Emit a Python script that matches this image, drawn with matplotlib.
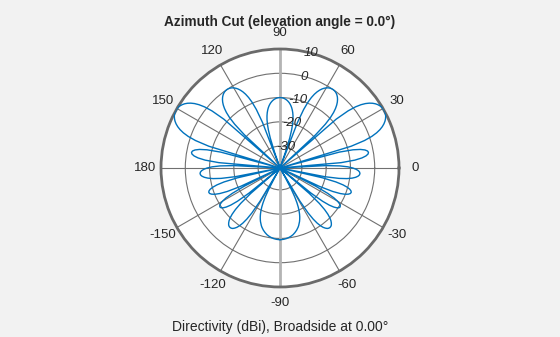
import numpy as np
import matplotlib
matplotlib.use("Agg")
import matplotlib.pyplot as plt

plt.rcParams["font.family"] = ["Liberation Sans", "DejaVu Sans"]

TITLE = "Azimuth Cut (elevation angle = 0.0°)"
XLABEL = "Directivity (dBi), Broadside at 0.00°"

# azimuth (deg) of the right half of the cut, -90 .. 90 in 1 deg steps;
# the left half is the mirror image about the 90/-90 axis
AZ_RIGHT = list(range(-90, 91))
# directivity (dBi); nulls sit below the -39 floor
DIR_RIGHT = [
    -9.5, -9.5, -9.55, -9.6, -9.7, -9.8, -9.95, -10.1, -10.3, -10.5,      # -90 .. -81
    -10.75, -11.0, -11.35, -11.7, -12.1, -12.5, -13.0, -13.5, -14.1, -14.8,  # -80 .. -71
    -15.5, -16.35, -17.3, -18.4, -19.7, -21.2, -23.1, -25.6, -29.1, -35.1,  # -70 .. -61
    -60, -23.1, -17.2, -13.9, -11.6, -10.0, -8.8, -8.0, -7.4, -7.1,         # -60 .. -51
    -7.0, -7.1, -7.4, -8.0, -8.8, -10.0, -11.6, -13.9, -17.2, -23.1,        # -50 .. -41
    -60, -22.55, -16.75, -13.6, -11.64, -10.4, -9.72, -9.5, -9.72, -10.4,   # -40 .. -31
    -11.64, -13.6, -16.75, -22.55, -60, -21.05, -15.25, -12.1, -10.14, -8.9,  # -30 .. -21
    -8.22, -8.0, -8.22, -8.9, -10.14, -12.1, -15.25, -21.05, -60, -20.2,   # -20 .. -11
    -14.34, -11.1, -9.0, -7.6, -6.69, -6.17, -6.0, -6.17, -6.69, -7.6,      # -10 .. -1
    -9.0, -11.1, -14.34, -20.2, -60, -13.74, -8.02, -5.01, -3.25, -2.3,     # 0 .. 9
    -2.0, -2.3, -3.25, -5.01, -8.02, -13.74, -60, -8.38, -2.42, 1.0,        # 10 .. 19
    3.34, 5.09, 6.43, 7.48, 8.31, 8.94, 9.42, 9.74, 9.94, 10.0,             # 20 .. 29
    9.94, 9.74, 9.42, 8.94, 8.31, 7.48, 6.43, 5.09, 3.34, 1.0,              # 30 .. 39
    -2.42, -8.38, -60, -19.0, -13.05, -9.62, -7.25, -5.48, -4.1, -3.01,     # 40 .. 49
    -2.14, -1.45, -0.91, -0.5, -0.22, -0.06, 0.0, -0.06, -0.22, -0.5,       # 50 .. 59
    -0.91, -1.45, -2.14, -3.01, -4.1, -5.48, -7.25, -9.62, -13.05, -19.0,   # 60 .. 69
    -60, -32.1, -26.1, -22.64, -20.2, -18.34, -16.86, -15.64, -14.62, -13.75,  # 70 .. 79
    -13.01, -12.38, -11.84, -11.39, -11.0, -10.69, -10.44, -10.24, -10.11, -10.03,  # 80 .. 89
    -10.0,                                                                  # 90
]

THETA_TICKS = [0, 30, 60, 90, 120, 150, 180, 210, 240, 270, 300, 330]
THETA_LABELS = ["0", "30", "60", "90", "120", "150", "180",
                "-150", "-120", "-90", "-60", "-30"]
R_TICKS = [-30, -20, -10, 0, 10]
R_MIN, R_MAX = -39, 10

az_right = np.array(AZ_RIGHT, dtype=float)
dir_right = np.array(DIR_RIGHT, dtype=float)
az = np.concatenate([az_right, 180 - az_right[::-1][1:]])
dbi = np.concatenate([dir_right, dir_right[::-1][1:]])
dbi = np.clip(dbi, R_MIN, None)

fig = plt.figure(figsize=(5.6, 3.37), dpi=100, facecolor="#f2f2f2")
ax = fig.add_axes([0.2875, 0.1484, 0.425, 0.7062], projection="polar")
ax.set_facecolor("white")

ax.set_ylim(R_MIN, R_MAX)
ax.set_rticks(R_TICKS)
ax.set_yticklabels([])
ax.set_thetagrids(THETA_TICKS, THETA_LABELS, fontsize=9.5, color="#262626")
ax.tick_params(axis="x", pad=1)
ax.grid(True, color="#707070", lw=0.8)
ax.spines["polar"].set_color("#6a6a6a")
ax.spines["polar"].set_linewidth(2)

# broadside axis is drawn lighter and heavier
ax.plot(np.deg2rad([90, 90]), [R_MIN, R_MAX], color="#b4b4b4", lw=2, zorder=2)
ax.plot(np.deg2rad([270, 270]), [R_MIN, R_MAX], color="#b4b4b4", lw=2, zorder=2)

ax.plot(np.deg2rad(az), dbi, color="#0072BD", lw=1.0, zorder=3)

for r in R_TICKS:
    ax.text(np.deg2rad(75), r, str(r), fontsize=9.5, style="italic", color="#262626",
            ha="center", va="center", zorder=4)

fig.text(0.5, 1 - 22 / 337, TITLE, ha="center", va="center",
         fontsize=9.8, fontweight="bold", color="#262626")
fig.text(0.5, 1 - 327 / 337, XLABEL, ha="center", va="center",
         fontsize=10, color="#262626")

fig.savefig("out.png", dpi=100, facecolor=fig.get_facecolor())
